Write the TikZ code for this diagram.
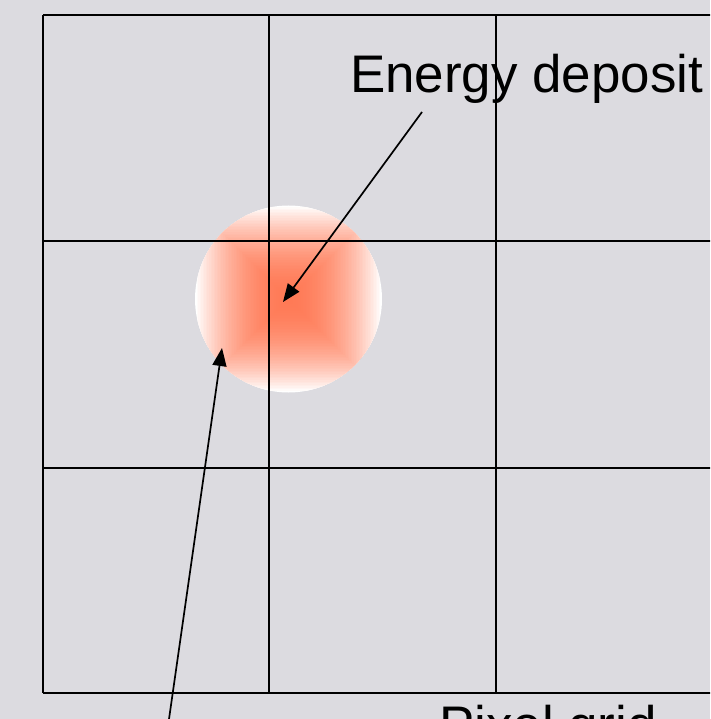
\documentclass[tikz,border=0pt]{standalone}
\usepackage{fontspec}
\setmainfont{Liberation Sans}
\usetikzlibrary{arrows.meta}
\definecolor{bgcol}{RGB}{220,219,224}
\definecolor{hot}{RGB}{255,122,86}
\begin{document}
\begin{tikzpicture}[x=1pt,y=-1pt,
  gridline/.style={line width=2.8pt, black},
  pointer/.style={line width=1.7pt, black, -{Triangle[length=18pt,width=14pt]}},
  bigtext/.style={font=\fontsize{52.9}{60}\selectfont, inner sep=0pt, anchor=base west}]
\useasboundingbox (0,0) rectangle (710,719);
\clip (0,0) rectangle (710,719);
\fill[bgcol] (0,0) rectangle (710,719);
% energy deposit blob (square gradient clipped to a disc)
\begin{scope}
  \clip (288.5,299) circle (93.5);
  \foreach \i in {0,...,59}{
    \pgfmathsetmacro\tt{1-\i/60}
    \pgfmathsetmacro\ss{93.5*\tt}
    \pgfmathsetmacro\pp{100*\tt*\tt}
    \fill[white!\pp!hot] ({288.5-\ss},{299-\ss}) rectangle ({288.5+\ss},{299+\ss});
  }
\end{scope}
% pixel grid
\foreach \x in {43,269,496,722}{
  \draw[gridline] (\x,15) -- (\x,693);
}
\foreach \y in {15,241,468,693}{
  \draw[gridline] (43,\y) -- (730,\y);
}
% labels
\node[bigtext] (energy) at (350,93) {Energy deposit};
\node[bigtext] (pixel) at (439,743) {Pixel grid};
% pointers
\coordinate (etail) at (422,112);
\coordinate (etip) at (283,302);
\coordinate (ptail) at (166,740);
\coordinate (ptip) at (222,348);
\draw[pointer] (etail) -- (etip);
\draw[pointer] (ptail) -- (ptip);
\end{tikzpicture}
\end{document}
